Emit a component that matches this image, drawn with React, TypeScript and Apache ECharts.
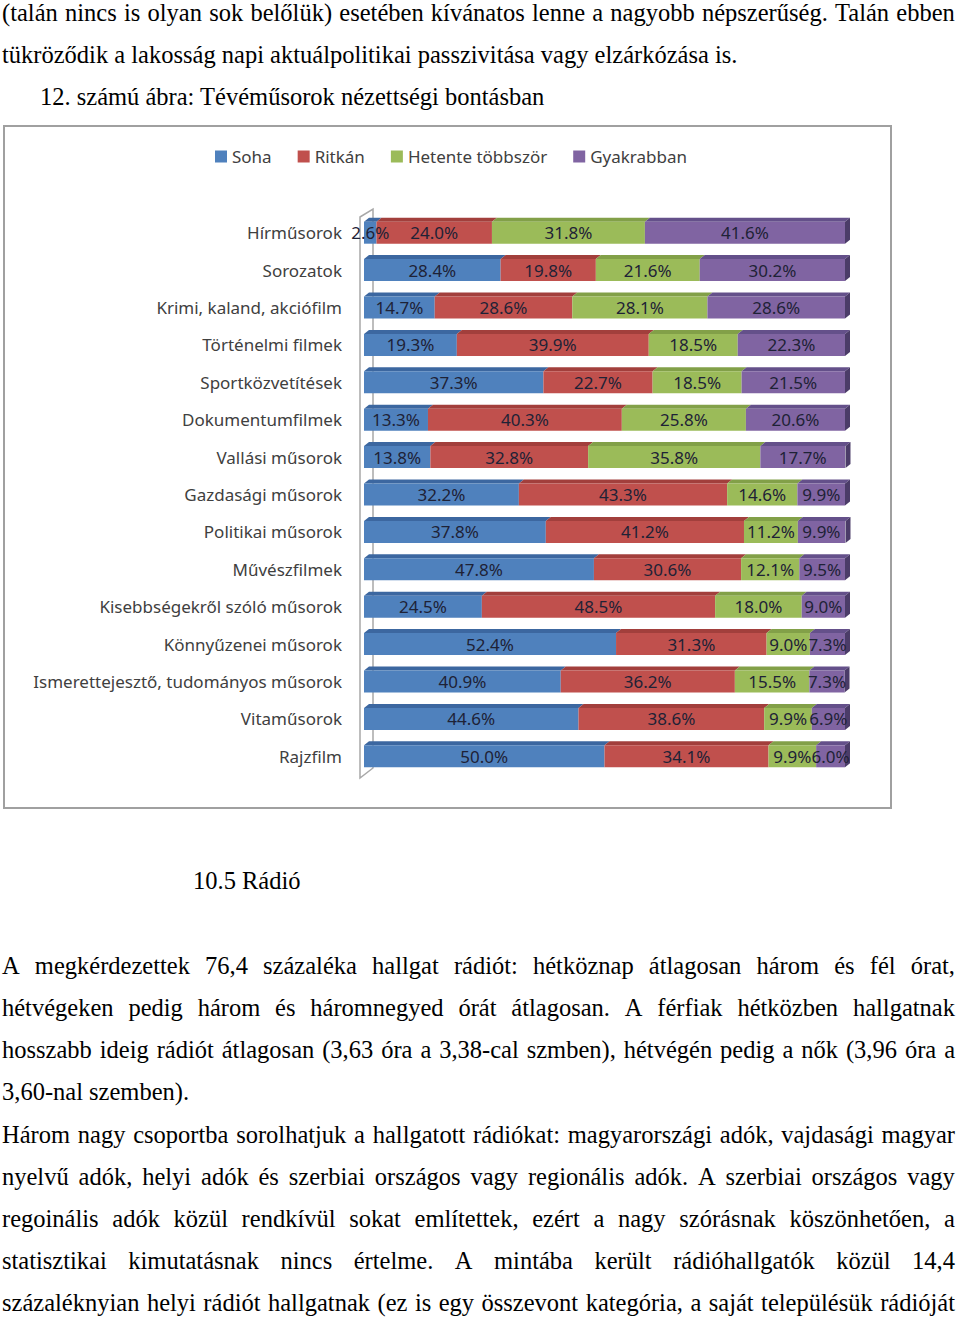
import React, { useEffect, useRef } from "react";
import * as echarts from "echarts";

const categories = [
  "Hírműsorok",
  "Sorozatok",
  "Krimi, kaland, akciófilm",
  "Történelmi filmek",
  "Sportközvetítések",
  "Dokumentumfilmek",
  "Vallási műsorok",
  "Gazdasági műsorok",
  "Politikai műsorok",
  "Művészfilmek",
  "Kisebbségekről szóló műsorok",
  "Könnyűzenei műsorok",
  "Ismerettejesztő, tudományos műsorok",
  "Vitaműsorok",
  "Rajzfilm",
];

const seriesNames = ["Soha", "Ritkán", "Hetente többször", "Gyakrabban"];

const soha = [2.6, 28.4, 14.7, 19.3, 37.3, 13.3, 13.8, 32.2, 37.8, 47.8, 24.5, 52.4, 40.9, 44.6, 50.0];
const ritkan = [24.0, 19.8, 28.6, 39.9, 22.7, 40.3, 32.8, 43.3, 41.2, 30.6, 48.5, 31.3, 36.2, 38.6, 34.1];
const hetente = [31.8, 21.6, 28.1, 18.5, 18.5, 25.8, 35.8, 14.6, 11.2, 12.1, 18.0, 9.0, 15.5, 9.9, 9.9];
const gyakrabban = [41.6, 30.2, 28.6, 22.3, 21.5, 20.6, 17.7, 9.9, 9.9, 9.5, 9.0, 7.3, 7.3, 6.9, 6.0];

const frontColors = ["#4f81bd", "#c0504d", "#9bbb59", "#8064a2"];
const topColors = ["#3c67a0", "#a23f3c", "#82a048", "#64508a"];
const sideColor = "#4b3c68";

const topLines = [
  { t: "(talán nincs is olyan sok belőlük) esetében kívánatos lenne a nagyobb népszerűség. Talán ebben", y: 13, x: 2, j: true },
  { t: "tükröződik a lakosság napi aktuálpolitikai passzivitása vagy elzárkózása is.", y: 55, x: 2, j: false },
  { t: "12. számú ábra: Tévéműsorok nézettségi bontásban", y: 97, x: 40, j: false },
];

const bottomLines = [
  { t: "10.5 Rádió", y: 881, x: 193, j: false },
  { t: "A megkérdezettek 76,4 százaléka hallgat rádiót: hétköznap átlagosan három és fél órat,", y: 966, x: 2, j: true },
  { t: "hétvégeken pedig három és háromnegyed órát átlagosan. A férfiak hétközben hallgatnak", y: 1008, x: 2, j: true },
  { t: "hosszabb ideig rádiót átlagosan (3,63 óra a 3,38-cal szmben), hétvégén pedig a nők (3,96 óra a", y: 1050, x: 2, j: true },
  { t: "3,60-nal szemben).", y: 1092, x: 2, j: false },
  { t: "Három nagy csoportba sorolhatjuk a hallgatott rádiókat: magyarországi adók, vajdasági magyar", y: 1135, x: 2, j: true },
  { t: "nyelvű adók, helyi adók és szerbiai országos vagy regionális adók. A szerbiai országos vagy", y: 1177, x: 2, j: true },
  { t: "regoinális adók közül rendkívül sokat említettek, ezért a nagy szórásnak köszönhetően, a", y: 1219, x: 2, j: true },
  { t: "statisztikai kimutatásnak nincs értelme. A mintába került rádióhallgatók közül 14,4", y: 1261, x: 2, j: true },
  { t: "százaléknyian helyi rádiót hallgatnak (ez is egy összevont kategória, a saját településük rádióját", y: 1303, x: 2, j: true },
];

const serifFont = '"Liberation Serif", "Times New Roman", serif';
const sansFont = '"Noto Sans", sans-serif';

function TextLine({ t, y, x, j }: { t: string; y: number; x: number; j: boolean }) {
  const base: React.CSSProperties = {
    position: "absolute",
    left: x,
    top: y - 15,
    height: 30,
    lineHeight: "30px",
    fontFamily: serifFont,
    fontSize: 24.5,
    color: "#000",
    whiteSpace: "nowrap",
  };
  if (j) {
    const words = t.split(" ");
    return (
      <div style={{ ...base, width: 955 - x, display: "flex", justifyContent: "space-between" }}>
        {words.map((w, i) => (
          <span key={i}>{w}</span>
        ))}
      </div>
    );
  }
  return <div style={base}>{t}</div>;
}

function Chart() {
  const ref = useRef<HTMLDivElement>(null);
  useEffect(() => {
    if (!ref.current) return;
    const chart = echarts.init(ref.current, null, { renderer: "svg" });
    const values = [soha, ritkan, hetente, gyakrabban];
    const cumData = categories.map((_, i) => {
      const a = soha[i];
      const b = a + ritkan[i];
      const c = b + hetente[i];
      const d = c + gyakrabban[i];
      return [i, 0, a, b, c, d];
    });
    const half = 11;
    const dx = 5;
    const dy = 4;
    chart.setOption({
      animation: false,
      legend: {
        top: 18,
        left: 207,
        itemWidth: 12,
        itemHeight: 12,
        itemGap: 26,
        icon: "rect",
        data: seriesNames,
        textStyle: { fontFamily: sansFont, fontSize: 17, color: "#404040" },
      },
      grid: { left: 361, top: 89, width: 481, height: 561 },
      xAxis: { type: "value", min: 0, max: 100, show: false },
      yAxis: {
        type: "category",
        data: categories,
        inverse: true,
        axisLine: { show: false },
        axisTick: { show: false },
        splitLine: { show: false },
        axisLabel: {
          margin: 22,
          fontSize: 17,
          fontFamily: sansFont,
          color: "#404040",
          padding: [6, 0, 0, 0],
        },
      },
      graphic: [
        {
          type: "rect",
          z: 0,
          shape: { x: 1, y: 1, width: 887, height: 682 },
          style: { fill: "#fff", stroke: "#a0a0a0", lineWidth: 2 },
        },
        {
          type: "polygon",
          z: 1,
          shape: { points: [[357, 92], [370, 84], [370, 643], [357, 653]] },
          style: { fill: "none", stroke: "#a8a8a8", lineWidth: 1.5 },
        },
      ],
      series: [
        ...seriesNames.map((name, k) => ({
          name,
          type: "bar",
          stack: "total",
          barWidth: 22,
          z: 3,
          data: values[k],
          itemStyle: { color: frontColors[k] },
          label: {
            show: true,
            position: "inside",
            formatter: (p: any) => Number(p.value).toFixed(1) + "%",
            fontFamily: sansFont,
            fontSize: 17,
            color: "#1e2236",
          },
        })),
        {
          name: "3d",
          type: "custom",
          silent: true,
          z: 2,
          encode: { x: [1, 2, 3, 4, 5], y: 0 },
          data: cumData,
          renderItem: (params: any, api: any) => {
            const idx = api.value(0);
            const pts = [1, 2, 3, 4, 5].map((k) => api.coord([api.value(k), idx]));
            const cy = pts[0][1];
            const top = cy - half;
            const bottom = cy + half;
            const children: any[] = [];
            for (let k = 0; k < 4; k++) {
              const x0 = pts[k][0];
              const x1 = pts[k + 1][0];
              children.push({
                type: "polygon",
                shape: { points: [[x0, top], [x1, top], [x1 + dx, top - dy], [x0 + dx, top - dy]] },
                style: { fill: topColors[k] },
              });
            }
            const xe = pts[4][0];
            children.push({
              type: "polygon",
              shape: { points: [[xe, top], [xe + dx, top - dy], [xe + dx, bottom - dy], [xe, bottom]] },
              style: { fill: sideColor },
            });
            return { type: "group", children };
          },
        },
      ],
    });
    return () => chart.dispose();
  }, []);
  return (
    <div
      ref={ref}
      style={{ position: "absolute", left: 3, top: 125, width: 889, height: 684 }}
    />
  );
}

export default function App() {
  return (
    <div style={{ position: "absolute", left: 0, top: 0, width: 960, height: 1320, background: "#fff", overflow: "hidden" }}>
      {topLines.map((l, i) => (
        <TextLine key={"t" + i} {...l} />
      ))}
      <Chart />
      {bottomLines.map((l, i) => (
        <TextLine key={"b" + i} {...l} />
      ))}
    </div>
  );
}
